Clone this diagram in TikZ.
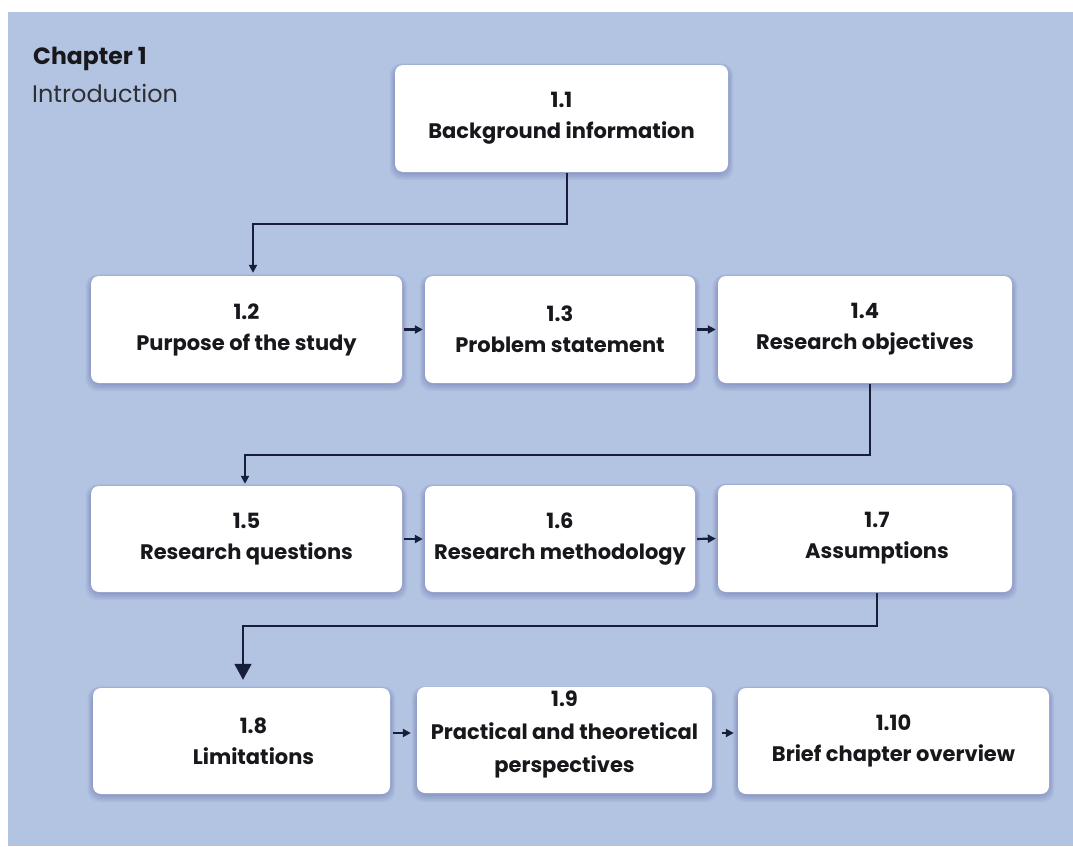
\documentclass[tikz,border=0pt]{standalone}
\usepackage{fontspec}
\setmainfont{Poppins}
\usetikzlibrary{arrows.meta}
\definecolor{bgblue}{RGB}{179,196,226}
\definecolor{ink}{RGB}{24,24,28}
\definecolor{wire}{RGB}{22,30,58}
\tikzset{
  stepbox/.style={draw=none, fill=white, rounded corners=8pt, inner sep=0pt,
    align=center, text=ink, font=\fontsize{21}{31}\selectfont\bfseries,
    minimum height=107pt},
  steptext/.style={inner sep=0pt, align=center, text=ink,
    font=\fontsize{21}{33}\selectfont\bfseries},
  flow/.style={draw=wire, line width=2.2pt, -{Triangle[length=8pt,width=8pt]}},
  bigflow/.style={draw=wire, line width=1.8pt, -{Triangle[length=16pt,width=17pt]}},
  halo/.style={fill=black!60!blue, opacity=0.045, rounded corners=12pt}
}
% soft shadow behind a box given its corners
\newcommand{\boxhalo}[4]{%
  \foreach \g in {1,3,...,9}{%
    \fill[halo] (#1-\g*0.6, #2-\g*0.3+2) rectangle (#3+\g*0.6, #4+\g*0.8+2);}}
\begin{document}
\begin{tikzpicture}[x=1pt, y=-1pt]
\useasboundingbox (0,0) rectangle (1073,846);
\fill[white] (0,0) rectangle (1073,846);
\fill[bgblue] (8,12) rectangle (1073,846);

% shadows
\boxhalo{395}{64}{728}{171}
\boxhalo{91}{275}{402}{382}
\boxhalo{425}{275}{695}{382}
\boxhalo{718}{275}{1012}{382}
\boxhalo{91}{485}{402}{591}
\boxhalo{425}{485}{695}{591}
\boxhalo{718}{484}{1012}{591}
\boxhalo{93}{687}{390}{793}
\boxhalo{417}{687}{712}{793}
\boxhalo{738}{687}{1049}{793}

% heading
\node[anchor=base west, inner sep=0pt, text=ink, font=\fontsize{23.5}{28}\selectfont\bfseries] (chap) at (33,64) {Chapter 1};
\node[anchor=base west, inner sep=0pt, text=ink!90, font=\fontsize{24}{28}\selectfont] (intro) at (32,102) {Introduction};

% boxes
\node[stepbox, minimum width=333pt] (b11) at (561.5,118.5) {1.1\\Background information};
\node[stepbox, minimum width=311pt] (b12) at (246.5,329.5) {1.2\\Purpose of the study};
\node[stepbox, minimum width=270pt] (b13) at (560,329.5) {1.3\\Problem statement};
\node[stepbox, minimum width=294pt] (b14) at (865,329.5) {1.4\\Research objectives};
\node[stepbox, minimum width=311pt, minimum height=106pt] (b15) at (246.5,539) {1.5\\Research questions};
\node[stepbox, minimum width=270pt, minimum height=106pt] (b16) at (560,539) {1.6\\Research methodology};
\node[stepbox, minimum width=294pt] (b17) at (865,538.5) {\hspace*{24pt}1.7\\\hspace*{24pt}Assumptions};
\node[stepbox, minimum width=297pt, minimum height=106pt] (b18) at (241.5,741) {\hspace*{24pt}1.8\\\hspace*{24pt}Limitations};
\node[stepbox, minimum width=295pt, minimum height=106pt] (b19) at (564.5,740) {};
\node[steptext] (b19t) at (564.5,734) {1.9\\Practical and theoretical\\perspectives};
\node[stepbox, minimum width=311pt, minimum height=106pt] (b110) at (893.5,741) {1.10\\Brief chapter overview};

% turn points of the row-to-row connectors
\coordinate (t1) at (567,224);
\coordinate (t2) at (870,455);
\coordinate (t3) at (877,626);

% connectors
\draw[flow] ([xshift=5.5pt, yshift=-1pt]b11.south) -- (t1) -- (t1 -| 253,0) -- ([xshift=6.5pt, yshift=3pt]b12.north);
\draw[flow, shorten <=2pt, shorten >=2pt] (b12.east) -- (b13.west);
\draw[flow, shorten <=2pt, shorten >=2pt] (b13.east) -- (b14.west);
\draw[flow] ([xshift=5pt, yshift=-1pt]b14.south) -- (t2) -- (t2 -| 245,0) -- ([xshift=-1.5pt, yshift=2pt]b15.north);
\draw[flow, shorten <=2pt, shorten >=2pt] (b15.east) -- (b16.west);
\draw[flow, shorten <=2pt, shorten >=2pt] (b16.east) -- (b17.west);
\draw[bigflow] ([xshift=12pt, yshift=-1pt]b17.south) -- (t3) -- (t3 -| 243,0) -- ([xshift=1.5pt, yshift=8pt]b18.north);
\draw[flow, shorten <=3pt, shorten >=6pt] ([yshift=8pt]b18.east) -- ([yshift=8pt]b18.east -| b19.west);
\draw[flow, shorten <=10pt, shorten >=4pt] ([yshift=8pt]b19.east |- b110.center) -- ([yshift=8pt]b110.west);
\end{tikzpicture}
\end{document}
